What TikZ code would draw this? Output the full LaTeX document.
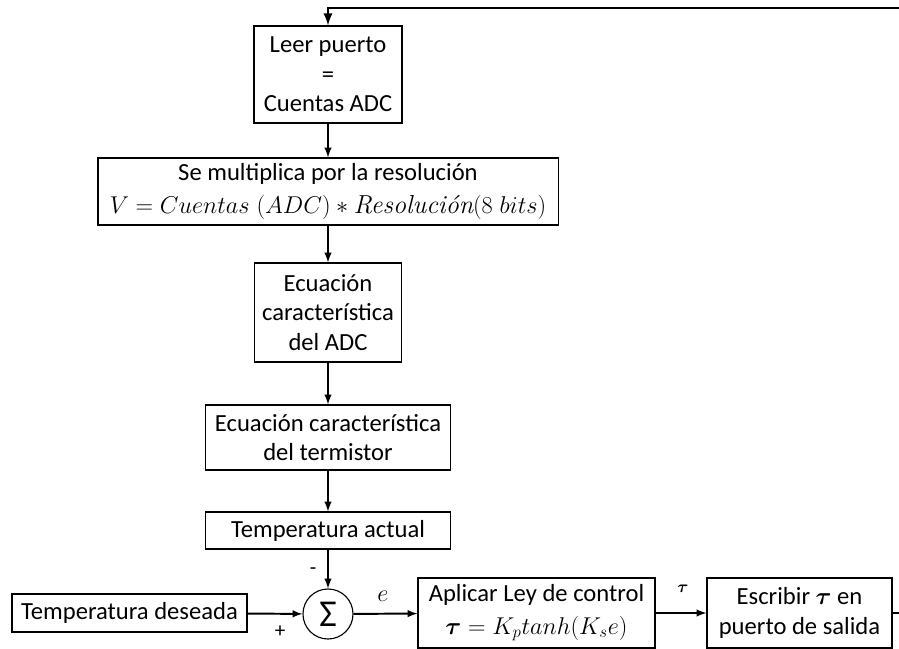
\documentclass[tikz,border=0pt]{standalone}
\usepackage{amsmath}
\usepackage{fontspec}
\setmainfont{Carlito}
\usetikzlibrary{arrows}

\newcommand{\eqsize}{\fontsize{18.5}{21}\selectfont}
\newcommand{\lmword}[1]{\text{\fontfamily{lmr}\selectfont\itshape #1}}

\begin{document}
\begin{tikzpicture}[x=0.025cm,y=-0.025cm,>=latex,
    block/.style={draw,line width=0.8pt,align=center,inner sep=2pt,
                  font=\fontsize{17.5}{21}\selectfont},
    flow/.style={->,line width=1.4pt},
    sign/.style={font=\fontsize{15}{15}\selectfont,inner sep=0pt}]

  \useasboundingbox (0,0) rectangle (899,649);

  % chain of blocks
  \node[block,minimum width=3.7cm,minimum height=2.425cm] (leer) at (328,74.5)
    {Leer puerto\\=\\Cuentas ADC};
  \node[block,minimum width=11.5cm,minimum height=1.675cm] (multi) at (328,191.5)
    {Se multiplica por la resoluci\'on\\[3pt]
     {\eqsize$V = Cuentas\;(ADC) * \lmword{Resoluci\'on}(8\;bits)$}};
  \node[block,minimum width=3.675cm,minimum height=2.475cm] (adc) at (328,312.5)
    {Ecuaci\'on\\caracter\'istica\\del ADC};
  \node[block,minimum width=6.125cm,minimum height=1.625cm] (term) at (328,437.5)
    {Ecuaci\'on caracter\'istica\\del termistor};
  \node[block,minimum width=6.125cm,minimum height=0.925cm] (actual) at (328,530.5)
    {Temperatura actual};

  % loop
  \node[draw,circle,line width=0.8pt,minimum size=1.25cm,inner sep=0pt,
        font=\fontsize{27}{27}\selectfont] (sum) at (328,614) {Σ};
  \node[block,minimum width=5.875cm,minimum height=0.95cm] (deseada) at (129.5,613)
    {Temperatura deseada};
  \node[block,minimum width=5.925cm,minimum height=1.75cm] (aplicar) at (536.5,613)
    {Aplicar Ley de control\\[2pt]{\eqsize$\boldsymbol{\tau} = K_p tanh(K_s e)$}};
  \node[block,minimum width=4.625cm,minimum height=1.75cm] (escribir) at (799.5,613)
    {Escribir {\eqsize$\boldsymbol{\tau}$} en\\puerto de salida};

  \node[sign] (menos) at (313,571) {-};
  \node[sign] (mas) at (280,632) {+};
  \node[font=\fontsize{19}{19}\selectfont,inner sep=0pt] (err) at (383,596) {$e$};
  \node[font=\fontsize{13}{13}\selectfont,inner sep=0pt] (tau) at (683,589) {$\boldsymbol{\tau}$};

  \coordinate (fbout) at (902,613);
  \coordinate (fbtop) at (902,8);

  \draw[flow] (leer) -- (multi);
  \draw[flow] (multi) -- (adc);
  \draw[flow] (adc) -- (term);
  \draw[flow] (term) -- (actual);
  \draw[flow] (actual) -- (sum);
  \draw[flow] (deseada) -- (sum);
  \draw[flow] (sum) -- (aplicar);
  \draw[flow] (aplicar) -- (escribir);
  \draw[->,line width=1.9pt] (escribir.east) -- (fbout) -- (fbtop) -| (leer.north);
\end{tikzpicture}
\end{document}
